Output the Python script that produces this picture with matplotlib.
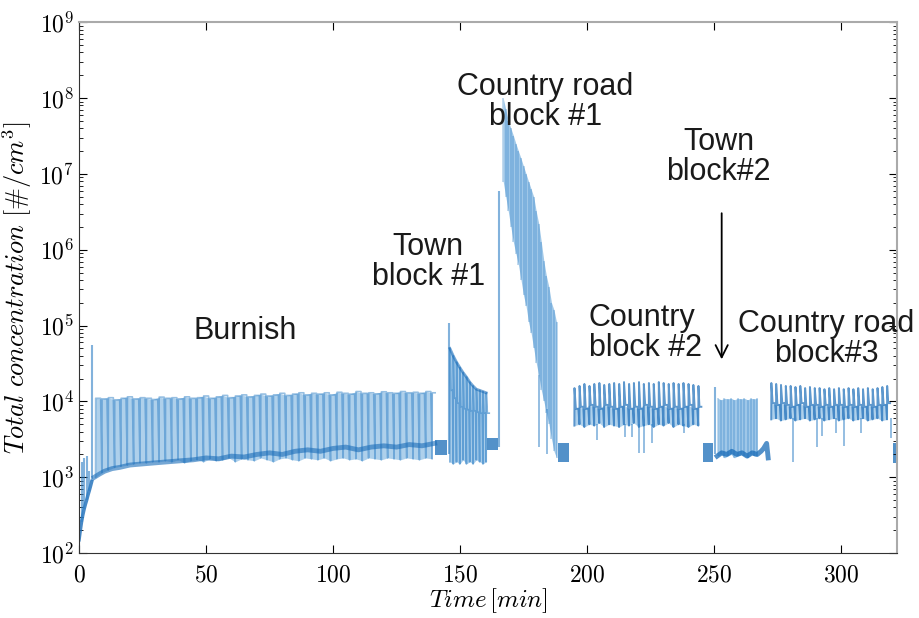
import numpy as np
import matplotlib
matplotlib.use("Agg")
import matplotlib.pyplot as plt
from matplotlib.ticker import FuncFormatter, LogLocator, MultipleLocator

plt.rcParams['mathtext.fontset'] = 'cm'
plt.rcParams['font.family'] = ['Liberation Sans', 'DejaVu Sans']

# ---- data (time in min, concentration in #/cm3) ----
# start-up ramp
start_t = [0, 0.5, 1.0, 1.5, 2.0, 2.5, 3.0, 3.5, 4.0, 4.5, 5.0]
start_c = [1.5e2, 2.0e2, 2.6e2, 3.2e2, 3.8e2, 4.4e2, 5.0e2, 5.8e2, 6.6e2, 7.6e2, 8.8e2]

# single spikes (time, bottom, top)
spike_t = [1.0, 2.0, 3.0, 4.0, 5.0, 145.6, 165.4, 250.2]
spike_lo = [2.6e2, 3.8e2, 5.0e2, 6.6e2, 8.8e2, 2.0e3, 2.5e3, 2.0e3]
spike_hi = [1.6e3, 1.8e3, 1.9e3, 1.2e3, 5.5e4, 1.07e5, 6.0e6, 1.55e4]

# Burnish: one entry per cycle
burnish_t = [6.5, 9.0, 11.5, 14.0, 16.5, 19.0, 21.5, 24.0, 26.5, 29.0,
             31.5, 34.0, 36.5, 39.0, 41.5, 44.0, 46.5, 49.0, 51.5, 54.0,
             56.5, 59.0, 61.5, 64.0, 66.5, 69.0, 71.5, 74.0, 76.5, 79.0,
             81.5, 84.0, 86.5, 89.0, 91.5, 94.0, 96.5, 99.0, 101.5, 104.0,
             106.5, 109.0, 111.5, 114.0, 116.5, 119.0, 121.5, 124.0, 126.5, 129.0,
             131.5, 134.0, 136.5, 139.0]
burnish_hi = np.array([1.10, 1.08, 1.12, 1.05, 1.10, 1.15, 1.08, 1.12, 1.10, 1.06,
                       1.14, 1.10, 1.12, 1.08, 1.15, 1.10, 1.12, 1.18, 1.10, 1.15,
                       1.20, 1.12, 1.18, 1.22, 1.15, 1.20, 1.25, 1.18, 1.22, 1.28,
                       1.20, 1.25, 1.30, 1.22, 1.28, 1.25, 1.30, 1.22, 1.32, 1.28,
                       1.25, 1.35, 1.28, 1.30, 1.26, 1.34, 1.30, 1.28, 1.35, 1.30,
                       1.32, 1.28, 1.35, 1.30]) * 1e4
burnish_lo = np.array([1.00, 1.15, 1.25, 1.35, 1.40, 1.45, 1.50, 1.55, 1.55, 1.60,
                       1.60, 1.65, 1.60, 1.70, 1.55, 1.65, 1.70, 1.60, 1.75, 1.65,
                       1.70, 1.80, 1.60, 1.75, 1.70, 1.65, 1.80, 1.70, 1.60, 1.75,
                       1.80, 1.70, 1.65, 1.80, 1.75, 1.70, 1.80, 1.65, 1.75, 1.80,
                       1.70, 1.75, 1.65, 1.80, 1.75, 1.70, 1.80, 1.75, 1.70, 1.80,
                       1.75, 1.70, 1.80, 1.75]) * 1e3
base_t = [6, 8, 10, 13, 16, 20, 25, 30, 35, 40, 45, 50, 55, 60, 65,
          70, 75, 80, 85, 90, 95, 100, 105, 110, 115, 120, 125, 130, 135, 140]
base_c = np.array([1.0, 1.1, 1.2, 1.3, 1.35, 1.45, 1.5, 1.55, 1.6, 1.65, 1.7, 1.8, 1.75, 1.9, 1.85,
                   2.0, 2.1, 2.0, 2.2, 2.3, 2.2, 2.4, 2.5, 2.3, 2.5, 2.6, 2.5, 2.7, 2.6, 2.8]) * 1e3

# Town block #1
town1_t = [146.0, 147.3, 148.6, 149.9, 151.2, 152.5, 153.8, 155.1, 156.4, 157.7, 159.0, 160.3]
town1_hi = [5.0e4, 4.0e4, 3.3e4, 2.8e4, 2.4e4, 2.1e4, 1.8e4, 1.6e4, 1.45e4, 1.4e4, 1.35e4, 1.3e4]
town1_mid = [1.4e4, 1.1e4, 9.5e3, 8.5e3, 8.0e3, 7.8e3, 7.5e3, 7.5e3, 7.2e3, 7.0e3, 7.0e3, 7.0e3]
town1_lo = [1.6e3, 1.5e3, 1.6e3, 1.5e3, 1.7e3, 1.5e3, 1.6e3, 1.5e3, 1.7e3, 1.6e3, 1.5e3, 1.6e3]

# Country road block #1
road1_t = [167, 168, 169, 170, 171, 172, 173, 174, 175, 176, 177,
           178, 179, 180, 181, 182, 183, 184, 185, 186, 187, 188]
road1_hi = [1.0e8, 7.1e7, 5.0e7, 4.0e7, 3.2e7, 2.5e7, 2.0e7, 1.6e7, 1.26e7, 1.0e7, 7.9e6,
            6.3e6, 5.0e6, 3.2e6, 2.2e6, 1.26e6, 7.1e5, 4.5e5, 3.2e5, 2.0e5, 1.6e5, 1.1e5]
road1_lo = [7.9e6, 5.0e6, 3.2e6, 2.0e6, 1.26e6, 8.9e5, 6.3e5, 4.0e5, 2.5e5, 1.8e5, 1.1e5,
            7.9e4, 5.0e4, 3.2e4, 2.2e4, 1.4e4, 1.0e4, 7.1e3, 5.0e3, 3.2e3, 2.2e3, 1.8e3]

# Country block #2
c2_t = [195.0, 197.0, 198.9, 200.9, 202.8, 204.8, 206.7, 208.7, 210.6, 212.6,
        214.5, 216.5, 218.4, 220.4, 222.3, 224.3, 226.2, 228.2, 230.1, 232.1,
        234.0, 236.0, 237.9, 239.9, 241.8, 243.8]
c2_hi = np.array([1.5, 1.6, 1.7, 1.6, 1.7, 1.75, 1.65, 1.7, 1.75, 1.7,
                  1.8, 1.7, 1.75, 1.8, 1.7, 1.75, 1.7, 1.8, 1.75, 1.7,
                  1.75, 1.7, 1.75, 1.7, 1.65, 1.6]) * 1e4
c2_mid = np.array([8.0, 8.5, 8.0, 9.0, 8.5, 8.0, 9.0, 8.5, 8.0, 8.5,
                   9.0, 8.0, 8.5, 8.0, 9.0, 8.5, 8.0, 8.5, 9.0, 8.0,
                   8.5, 8.0, 8.5, 9.0, 8.0, 8.5]) * 1e3
c2_lo = np.array([4.8, 5.0, 4.6, 5.0, 4.8, 5.2, 4.6, 5.0, 4.8, 4.6,
                  5.0, 4.8, 5.2, 4.6, 4.8, 5.0, 4.6, 5.0, 4.8, 5.2,
                  4.6, 5.0, 4.8, 4.6, 5.0, 4.8]) * 1e3

# Town block #2
town2_t = [251.5, 252.8, 254.1, 255.4, 256.7, 258.0, 259.3, 260.6, 261.9, 263.2, 264.5, 265.8, 267.0]
town2_hi = np.array([1.1, 1.05, 1.1, 1.08, 1.1, 1.05, 1.1, 1.08, 1.1, 1.05, 1.1, 1.08, 1.1]) * 1e4
town2_lo = np.array([1.9, 2.0, 1.8, 1.9, 2.0, 1.8, 1.9, 2.0, 1.9, 1.8, 2.0, 1.9, 1.9]) * 1e3
town2_base_t = [251.2, 253, 255, 257, 259, 261, 263, 265, 267, 268.5, 269.5, 270.7, 271.3]
town2_base_c = np.array([1.9, 2.1, 2.0, 2.2, 2.0, 2.1, 1.9, 2.1, 2.0, 2.2, 2.4, 2.8, 1.8]) * 1e3

# Country road block #3
c3_t = [272.5, 274.4, 276.3, 278.2, 280.1, 282.0, 283.9, 285.8, 287.7, 289.6,
        291.5, 293.4, 295.3, 297.2, 299.1, 301.0, 302.9, 304.8, 306.7, 308.6,
        310.5, 312.4, 314.3, 316.2, 318.1]
c3_hi = np.array([1.75, 1.7, 1.65, 1.6, 1.6, 1.55, 1.6, 1.5, 1.55, 1.5,
                  1.5, 1.45, 1.5, 1.45, 1.5, 1.45, 1.5, 1.45, 1.5, 1.45,
                  1.5, 1.45, 1.5, 1.55, 1.6]) * 1e4
c3_mid = np.array([9.5, 9.0, 9.5, 9.0, 8.5, 9.0, 9.5, 8.5, 9.0, 9.0,
                   8.5, 9.0, 8.5, 9.0, 9.0, 8.5, 9.0, 8.5, 9.0, 8.5,
                   9.0, 8.5, 9.0, 9.0, 9.5]) * 1e3
c3_lo = np.array([5.8, 6.0, 5.6, 5.8, 6.0, 5.6, 5.8, 6.0, 5.6, 5.8,
                  6.0, 5.6, 5.8, 6.0, 5.6, 5.8, 6.0, 5.6, 5.8, 6.0,
                  5.6, 5.8, 6.0, 5.6, 5.8]) * 1e3

# deep dips (time, bottom, top)
dip_t = [181.0, 184.3, 204.0, 214.8, 217.5, 220.4, 222.5, 225.4, 238.0,
         281.0, 290.5, 292.5, 298.0, 301.0, 308.0, 319.5]
dip_lo = [2.5e3, 2.0e3, 3.1e3, 3.4e3, 3.4e3, 2.1e3, 2.1e3, 2.8e3, 3.8e3,
          1.6e3, 2.5e3, 3.5e3, 3.8e3, 2.6e3, 3.8e3, 3.3e3]
dip_hi = [2.2e4, 8.0e3, 5.0e3, 5.0e3, 5.0e3, 5.0e3, 5.0e3, 5.0e3, 5.0e3,
          6.0e3, 6.0e3, 6.0e3, 6.0e3, 6.0e3, 6.0e3, 6.0e3]

# dark idle blocks between runs (start, end, bottom, top)
blob_t0 = [140.0, 160.8, 188.5, 245.5, 320.5]
blob_t1 = [144.8, 165.0, 193.0, 249.5, 322.0]
blob_lo = [1.95e3, 2.3e3, 1.6e3, 1.6e3, 1.55e3]
blob_hi = [3.1e3, 3.3e3, 2.8e3, 2.8e3, 2.8e3]

LIGHT = '#5fa3d9'
MID = '#2f80c6'
DARK = '#1a6cb8'


def cycle_path(t, lo, hi, mid):
    xs, ys = [], []
    for i in range(len(t)):
        step = t[i + 1] - t[i] if i < len(t) - 1 else 1.5
        xs += [t[i], t[i] + 0.05, t[i] + 0.3 * step, t[i] + 0.8 * step]
        ys += [lo[i], hi[i], mid[i], mid[i]]
    return xs, ys


fig = plt.figure(figsize=(9.19, 6.18), dpi=100)
ax = fig.add_axes([0.086, 0.105, 0.890, 0.859])

# start-up
ax.plot(start_t, start_c, color=DARK, lw=2.5, alpha=0.8)
ax.vlines(spike_t, spike_lo, spike_hi, color=MID, lw=1.5, alpha=0.6)

# burnish
ax.fill_between(burnish_t, burnish_lo, burnish_hi, color=LIGHT, alpha=0.5, lw=0)
x, y = cycle_path(burnish_t, burnish_lo, burnish_hi, burnish_hi)
ax.plot(x, y, color=MID, lw=1.2, alpha=0.5)
ax.plot(base_t, base_c, color=DARK, lw=3.5, alpha=0.6)

# town 1
ax.fill_between(town1_t, town1_lo, town1_hi, color=LIGHT, alpha=0.55, lw=0)
x, y = cycle_path(town1_t, town1_lo, town1_hi, town1_mid)
ax.plot(x, y, color=MID, lw=1.2, alpha=0.6)
ax.plot(town1_t, town1_hi, color=DARK, lw=2, alpha=0.6)

# country road 1
ax.fill_between(road1_t, road1_lo, road1_hi, color=LIGHT, alpha=0.6, lw=0)
ax.vlines(road1_t, road1_lo, road1_hi, color=MID, lw=1.2, alpha=0.35)

# country 2
ax.fill_between(c2_t, c2_lo, c2_mid, color=LIGHT, alpha=0.5, lw=0)
x, y = cycle_path(c2_t, c2_lo, c2_hi, c2_mid)
ax.plot(x, y, color=DARK, lw=1.4, alpha=0.7)

# town 2
ax.fill_between(town2_t, town2_lo, town2_hi, color=LIGHT, alpha=0.6, lw=0)
ax.vlines(town2_t, town2_lo, town2_hi, color=MID, lw=1.2, alpha=0.35)
ax.plot(town2_base_t, town2_base_c, color=DARK, lw=3.5, alpha=0.75)

# country road 3
ax.fill_between(c3_t, c3_lo, c3_mid, color=LIGHT, alpha=0.5, lw=0)
x, y = cycle_path(c3_t, c3_lo, c3_hi, c3_mid)
ax.plot(x, y, color=DARK, lw=1.4, alpha=0.7)

ax.vlines(dip_t, dip_lo, dip_hi, color=MID, lw=1.3, alpha=0.55)
for t0, t1, lo, hi in zip(blob_t0, blob_t1, blob_lo, blob_hi):
    ax.fill_between([t0, t1], [lo, lo], [hi, hi], color=DARK, alpha=0.75, lw=0)

# axes
ax.set_yscale('log')
ax.set_ylim(1e2, 1e9)
ax.set_xlim(0, 322)
ax.xaxis.set_major_locator(MultipleLocator(50))
ax.yaxis.set_major_locator(LogLocator(base=10, numticks=20))
ax.yaxis.set_minor_locator(LogLocator(base=10, subs=np.arange(2, 10), numticks=100))
ax.xaxis.set_major_formatter(FuncFormatter(lambda v, p: r'$%d$' % v))
ax.yaxis.set_major_formatter(FuncFormatter(lambda v, p: r'$10^{%d}$' % round(np.log10(v))))
ax.tick_params(which='both', direction='in', top=True, right=True, labelsize=17)
ax.tick_params(which='major', length=6)
ax.tick_params(which='minor', length=3)
ax.tick_params(axis='x', pad=8)
for s in ['left', 'bottom']:
    ax.spines[s].set_color('#333333')
for s in ['top', 'right']:
    ax.spines[s].set_color('#aaaaaa')
    ax.spines[s].set_linewidth(1.5)

ax.set_xlabel(r'$Time\,[min]$', fontsize=18, labelpad=0)
ax.set_ylabel(r'$Total\ concentration\ [\#/cm^3]$', fontsize=19, labelpad=4)

# labels of the runs
kw = dict(fontsize=22, color='#1a1a1a', linespacing=1.0, va='center')
ax.text(65.3, 8.5e4, 'Burnish', ha='center', **kw)
ax.text(137.5, 6.9e5, 'Town\nblock #1', ha='center', multialignment='center', **kw)
ax.text(183.5, 8.9e7, 'Country road\nblock #1', ha='center', multialignment='center', **kw)
ax.text(251.8, 1.65e7, 'Town\nblock#2', ha='center', multialignment='center', **kw)
ax.text(200.6, 8.1e4, 'Country\nblock #2', ha='left', multialignment='left', **kw)
ax.text(294.3, 6.6e4, 'Country road\nblock#3', ha='center', multialignment='center', **kw)
ax.annotate('', xy=(253, 3.3e4), xytext=(253, 3.3e6),
            arrowprops=dict(arrowstyle='->', color='black', lw=1.3, mutation_scale=22))

fig.savefig('out.png', dpi=100)
